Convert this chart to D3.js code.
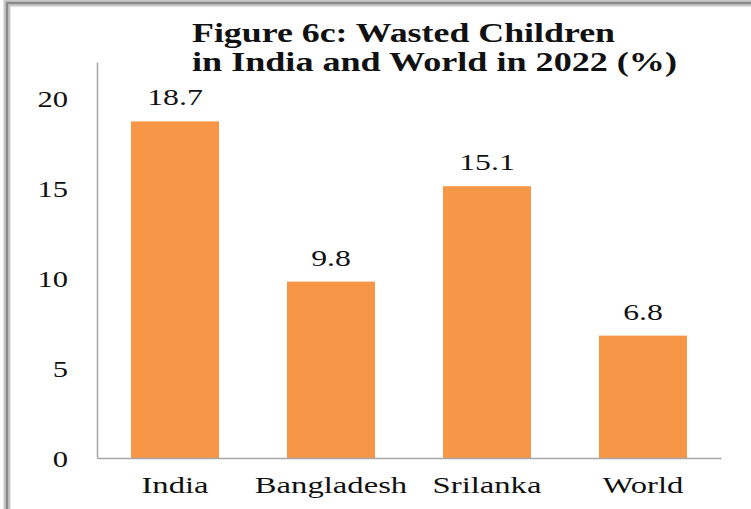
<!DOCTYPE html>
<html>
<head>
<meta charset="utf-8">
<script src="https://cdn.jsdelivr.net/npm/d3@7"></script>
<style>
  body { margin: 0; background: #fff; }
  svg { display: block; }
  text { font-family: "Liberation Serif", "Times New Roman", serif; fill: #111; }
</style>
</head>
<body>
<div id="chart"></div>
<script>
// donnees du graphique
var categories = ["India", "Bangladesh", "Srilanka", "World"];
var values = [18.7, 9.8, 15.1, 6.8];
var yTicks = [0, 5, 10, 15, 20];
var titleLines = ["Figure 6c: Wasted Children", "in India and World in 2022 (%)"];

var width = 751, height = 509;
var sx = 1.33; // le texte de l'image est etire horizontalement

var svg = d3.select("#chart").append("svg")
    .attr("width", width)
    .attr("height", height);

// cadre gris (double trait) en haut et a gauche
svg.append("path")
    .attr("d", "M7,509V3H751")
    .attr("fill", "none")
    .attr("stroke", "#c8c8c8")
    .attr("stroke-width", 7);
svg.append("path")
    .attr("d", "M7,509V3H751")
    .attr("fill", "none")
    .attr("stroke", "#8a8a8a")
    .attr("stroke-width", 2.5);

var x = d3.scaleBand()
    .domain(categories)
    .range([97, 721])
    .paddingInner(0.436)
    .paddingOuter(0.218);

var y = d3.scaleLinear()
    .domain([0, 22])
    .range([458, 62]);

// titre
svg.selectAll(".title")
    .data(titleLines)
    .enter().append("text")
    .attr("class", "title")
    .attr("x", 192)
    .attr("y", function(d, i) { return 42 + i * 29; })
    .attr("textLength", function(d, i) { return i == 0 ? 423 : 485; })
    .attr("lengthAdjust", "spacingAndGlyphs")
    .style("font-size", "27px")
    .style("font-weight", "bold")
    .text(function(d) { return d; });

// barres
svg.selectAll(".bar")
    .data(values)
    .enter().append("rect")
    .attr("class", "bar")
    .attr("x", function(d, i) { return x(categories[i]); })
    .attr("y", function(d) { return y(d); })
    .attr("width", x.bandwidth())
    .attr("height", function(d) { return y(0) - y(d); })
    .attr("fill", "#f79646");

// etiquettes de valeurs
svg.selectAll(".val")
    .data(values)
    .enter().append("text")
    .attr("class", "val")
    .attr("text-anchor", "middle")
    .attr("transform", function(d, i) {
        return "translate(" + (x(categories[i]) + x.bandwidth() / 2) + "," + (y(d) - 16) + ") scale(1.38,1)";
    })
    .style("font-size", "23px")
    .text(function(d) { return d.toFixed(1); });

// axe vertical
var yAxis = svg.append("g")
    .attr("transform", "translate(97,0)")
    .call(d3.axisLeft(y).tickValues(yTicks).tickSize(0).tickSizeOuter(0).tickPadding(0));
yAxis.select(".domain").attr("stroke", "#a6a6a6").attr("stroke-width", 1.5);
yAxis.selectAll("text")
    .attr("x", null)
    .attr("dy", null)
    .attr("text-anchor", "end")
    .attr("font-family", null)
    .attr("transform", "translate(-29,8) scale(" + sx + ",1)")
    .style("font-size", "23px");

// axe horizontal
var xAxis = svg.append("g")
    .attr("transform", "translate(0,458)")
    .call(d3.axisBottom(x).tickSize(0).tickSizeOuter(0).tickPadding(0));
xAxis.select(".domain").attr("stroke", "#a6a6a6").attr("stroke-width", 1.5);
xAxis.selectAll("text")
    .attr("y", null)
    .attr("dy", null)
    .attr("font-family", null)
    .attr("transform", "translate(0,35) scale(1.42,1)")
    .style("font-size", "23px");
</script>
</body>
</html>
